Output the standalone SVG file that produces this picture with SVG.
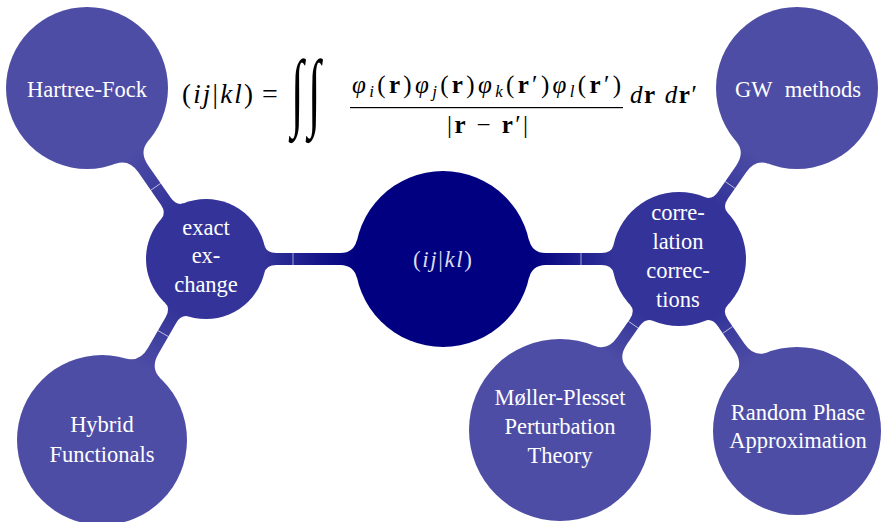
<svg xmlns="http://www.w3.org/2000/svg" width="881" height="522" viewBox="0 0 881 522">
<style>
.l0{fill:#000080}
.l1{fill:#333399}
.l2{fill:#4d4da6}
.lab{font-family:"Liberation Serif","Times New Roman",serif;font-size:22.5px;fill:#ffffff;text-anchor:middle}
.seam{stroke:#ffffff;stroke-width:0.8;stroke-opacity:0.75}
.f{font-family:"Liberation Serif","Times New Roman",serif;fill:#000000}
.it{font-style:italic}
.bf{font-weight:bold}
</style>
<defs>
<linearGradient id="g01" x1="0" y1="0" x2="1" y2="0"><stop offset="0" stop-color="#000080"/><stop offset="1" stop-color="#333399"/></linearGradient>
<linearGradient id="g12" x1="0" y1="0" x2="1" y2="0"><stop offset="0" stop-color="#333399"/><stop offset="1" stop-color="#4d4da6"/></linearGradient>
</defs>
<g id="connectors">
<g transform="translate(443,259) rotate(180)">
<path fill="url(#g01)" d="M85.7,-20 Q88.97,-6 102.7,-6 L166.66,-6 Q176.74,-6 178.66,-14 L178.66,14 Q176.74,6 166.66,6 L102.7,6 Q88.97,6 85.7,20 Z"/>
<line class="seam" x1="150" y1="-6" x2="150" y2="6"/>
</g>
<g transform="translate(443,259)">
<path fill="url(#g01)" d="M85.7,-20 Q88.97,-6 102.7,-6 L158.48,-6 Q168.77,-6 170.48,-14 L170.48,14 Q168.77,6 158.48,6 L102.7,6 Q88.97,6 85.7,20 Z"/>
<line class="seam" x1="138" y1="-6" x2="138" y2="6"/>
</g>
<g transform="translate(206,259) rotate(-124.83)">
<path fill="url(#g12)" d="M58.34,-14 Q60.26,-6 70.34,-6 L109.81,-6 Q126.24,-6 129.81,-20 L129.81,20 Q126.24,6 109.81,6 L70.34,6 Q60.26,6 58.34,14 Z"/>
<line class="seam" x1="88" y1="-6" x2="88" y2="6"/>
</g>
<g transform="translate(206,259) rotate(119.88)">
<path fill="url(#g12)" d="M58.34,-14 Q60.26,-6 70.34,-6 L106.14,-6 Q122.75,-6 126.14,-20 L126.14,20 Q122.75,6 106.14,6 L70.34,6 Q60.26,6 58.34,14 Z"/>
<line class="seam" x1="86" y1="-6" x2="86" y2="6"/>
</g>
<g transform="translate(679,259) rotate(-55.39)">
<path fill="url(#g12)" d="M65.52,-14 Q67.23,-6 77.52,-6 L109.31,-6 Q125.74,-6 129.31,-20 L129.31,20 Q125.74,6 109.31,6 L77.52,6 Q67.23,6 65.52,14 Z"/>
<line class="seam" x1="90" y1="-6" x2="90" y2="6"/>
</g>
<g transform="translate(679,259) rotate(124.83)">
<path fill="url(#g12)" d="M65.52,-14 Q67.23,-6 77.52,-6 L99.52,-6 Q116.37,-6 119.52,-20 L119.52,20 Q116.37,6 99.52,6 L77.52,6 Q67.23,6 65.52,14 Z"/>
<line class="seam" x1="80" y1="-6" x2="80" y2="6"/>
</g>
<g transform="translate(679,259) rotate(55.55)">
<path fill="url(#g12)" d="M65.52,-14 Q67.23,-6 77.52,-6 L107.02,-6 Q123.59,-6 127.02,-20 L127.02,20 Q123.59,6 107.02,6 L77.52,6 Q67.23,6 65.52,14 Z"/>
<line class="seam" x1="86" y1="-6" x2="86" y2="6"/>
</g>
</g>
<g id="center">
<circle class="l0" cx="443" cy="259" r="88"/>
<text x="413" y="267" textLength="59" lengthAdjust="spacing" style="font-family:'Liberation Serif',serif;font-size:23px;fill:#dcdcec">(<tspan class="it">ij</tspan>|<tspan class="it">kl</tspan>)</text>
</g>
<g id="exact-exchange">
<circle class="l1" cx="206" cy="259" r="60"/>
<text class="lab" x="206" y="235">exact</text>
<text class="lab" x="206" y="263">ex-</text>
<text class="lab" x="206" y="292">change</text>
</g>
<g id="correlation-corrections">
<circle class="l1" cx="679" cy="259" r="67"/>
<text class="lab" x="678" y="220">corre-</text>
<text class="lab" x="678" y="249">lation</text>
<text class="lab" x="678" y="278">correc-</text>
<text class="lab" x="678" y="307">tions</text>
</g>
<g id="hartree-fock">
<circle class="l2" cx="87" cy="88" r="81"/>
<text class="lab" x="87" y="97">Hartree-Fock</text>
</g>
<g id="hybrid-functionals">
<circle class="l2" cx="102" cy="440" r="85"/>
<text class="lab" x="102" y="432">Hybrid</text>
<text class="lab" x="102" y="462">Functionals</text>
</g>
<g id="gw-methods">
<circle class="l2" cx="797" cy="88" r="81"/>
<text class="lab" x="798" y="97" word-spacing="7">GW methods</text>
</g>
<g id="moller-plesset">
<circle class="l2" cx="560" cy="430" r="91"/>
<text class="lab" x="560" y="405">Møller-Plesset</text>
<text class="lab" x="560" y="434">Perturbation</text>
<text class="lab" x="560" y="463">Theory</text>
</g>
<g id="random-phase">
<circle class="l2" cx="797" cy="431" r="84"/>
<text class="lab" x="798" y="420">Random Phase</text>
<text class="lab" x="798" y="448">Approximation</text>
</g>
<g id="formula" class="f">
<text x="182" y="103" font-size="27" textLength="71" lengthAdjust="spacing">(<tspan class="it">ij</tspan>|<tspan class="it">kl</tspan>)</text>
<text x="262" y="103" font-size="28">=</text>
<text font-size="46" transform="translate(291,120.3) scale(1,1.88)">∫</text>
<text font-size="46" transform="translate(308,120.3) scale(1,1.88)">∫</text>
<text x="352" y="93" font-size="25" textLength="269" lengthAdjust="spacing"><tspan class="it">φ</tspan><tspan class="it" font-size="17" dy="4">i</tspan><tspan dy="-4">(</tspan><tspan class="bf">r</tspan>)<tspan class="it">φ</tspan><tspan class="it" font-size="17" dy="4">j</tspan><tspan dy="-4">(</tspan><tspan class="bf">r</tspan>)<tspan class="it">φ</tspan><tspan class="it" font-size="17" dy="4">k</tspan><tspan dy="-4">(</tspan><tspan class="bf">r</tspan>′)<tspan class="it">φ</tspan><tspan class="it" font-size="17" dy="4">l</tspan><tspan dy="-4">(</tspan><tspan class="bf">r</tspan>′)</text>
<rect x="350" y="107" width="273" height="1.2"/>
<text x="447" y="133" font-size="25" textLength="81" lengthAdjust="spacing">|<tspan class="bf">r</tspan> − <tspan class="bf">r</tspan>′|</text>
<text x="630" y="103" font-size="25" textLength="67" lengthAdjust="spacing"><tspan class="it">d</tspan><tspan class="bf">r</tspan> <tspan class="it">d</tspan><tspan class="bf">r</tspan>′</text>
</g>
</svg>
